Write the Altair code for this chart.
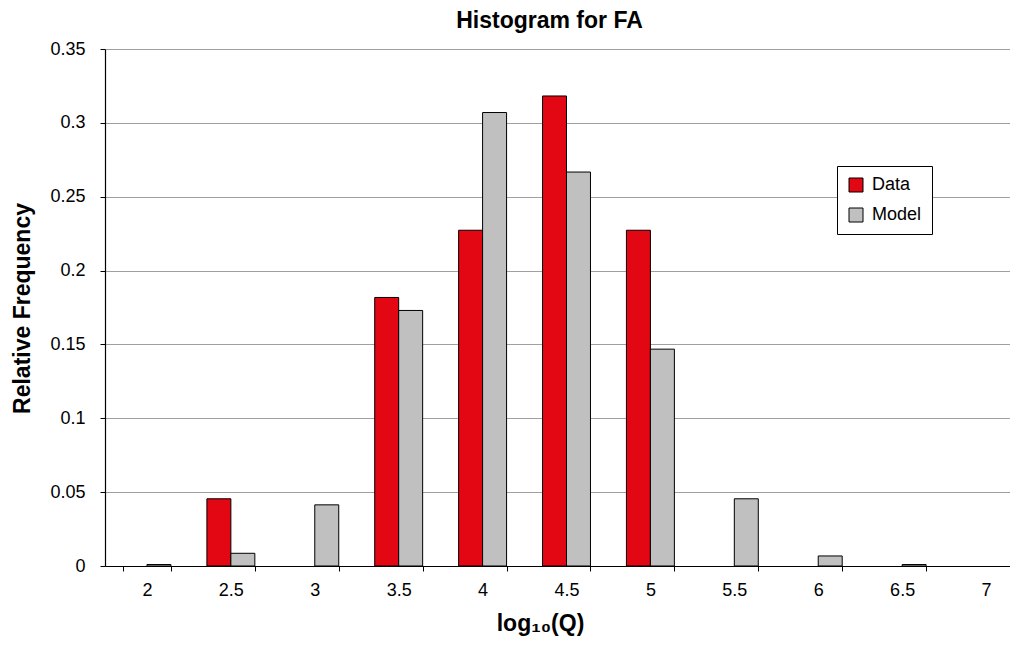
import altair as alt
import pandas as pd

categories = ["2", "2.5", "3", "3.5", "4", "4.5", "5", "5.5", "6", "6.5", "7"]
data_vals = [0.0, 0.0455, 0.0, 0.1818, 0.2273, 0.3182, 0.2273, 0.0, 0.0, 0.0, 0.0]
model_vals = [0.001, 0.0086, 0.0414, 0.173, 0.307, 0.2667, 0.1468, 0.0455, 0.0068, 0.001, 0.0]
series = ["Data", "Model"]
colors = ["#E30613", "#C0C0C0"]
y_ticks = [0, 0.05, 0.1, 0.15, 0.2, 0.25, 0.3, 0.35]

rows = []
for c, d, m in zip(categories, data_vals, model_vals):
    rows.append({"cat": c, "series": "Data", "value": d})
    rows.append({"cat": c, "series": "Model", "value": m})
df = pd.DataFrame(rows)

FONT = "Liberation Sans"

chart = alt.Chart(df).transform_filter(
    alt.datum.value > 0
).mark_bar(stroke="black", strokeWidth=1).encode(
    x=alt.X("cat:N", sort=categories,
            scale=alt.Scale(domain=categories, paddingInner=0.4286, paddingOuter=0.2143),
            axis=alt.Axis(title="log₁₀(Q)", labelAngle=0, tickBand="extent",
                          domainColor="black", tickColor="black", tickSize=5,
                          labelFontSize=18, labelPadding=10, labelColor="black",
                          labelFont=FONT, titleFont=FONT, titleFontSize=23,
                          titleFontWeight="bold", titleColor="black",
                          titleX=435, titleY=57, titleBaseline="middle",
                          titleAnchor="start", titleAlign="center", grid=False)),
    xOffset=alt.XOffset("series:N", sort=series, scale=alt.Scale(paddingInner=0, paddingOuter=0)),
    y=alt.Y("value:Q", scale=alt.Scale(domain=[0, 0.35], nice=False),
            axis=alt.Axis(title="Relative Frequency", values=y_ticks, format="~g",
                          domainColor="black", tickColor="black", tickSize=5,
                          labelFontSize=18, labelPadding=15, labelColor="black",
                          labelFont=FONT, titleFont=FONT, titleFontSize=23,
                          titleFontWeight="bold", titleColor="black",
                          titleX=-83, titleY=259, titleAngle=270,
                          titleBaseline="middle", titleAlign="center",
                          titleAnchor="start",
                          grid=True, gridColor="#A0A0A0", gridWidth=1.2)),
    color=alt.Color("series:N", sort=series,
                    scale=alt.Scale(domain=series, range=colors),
                    legend=alt.Legend(title=None, orient="none", legendX=732, legendY=117,
                                      symbolType="square", symbolSize=196,
                                      symbolStrokeColor="black", symbolStrokeWidth=1,
                                      labelFontSize=18, labelFont=FONT, labelColor="black",
                                      rowPadding=12, padding=10, labelOffset=7,
                                      strokeColor="black", fillColor="white",
                                      cornerRadius=0)),
).properties(
    width=923,
    height=517,
    title=alt.TitleParams("Histogram for FA", font=FONT, fontSize=23, fontWeight="bold",
                          color="black", dx=-17, offset=7),
    autosize=alt.AutoSizeParams(type="none"),
    padding={"left": 97, "top": 41, "right": -18, "bottom": 72},
).configure_view(stroke=None).configure_axis(domainWidth=1.2)

chart.save("out.html", embed_options={"renderer": "svg", "actions": False})
